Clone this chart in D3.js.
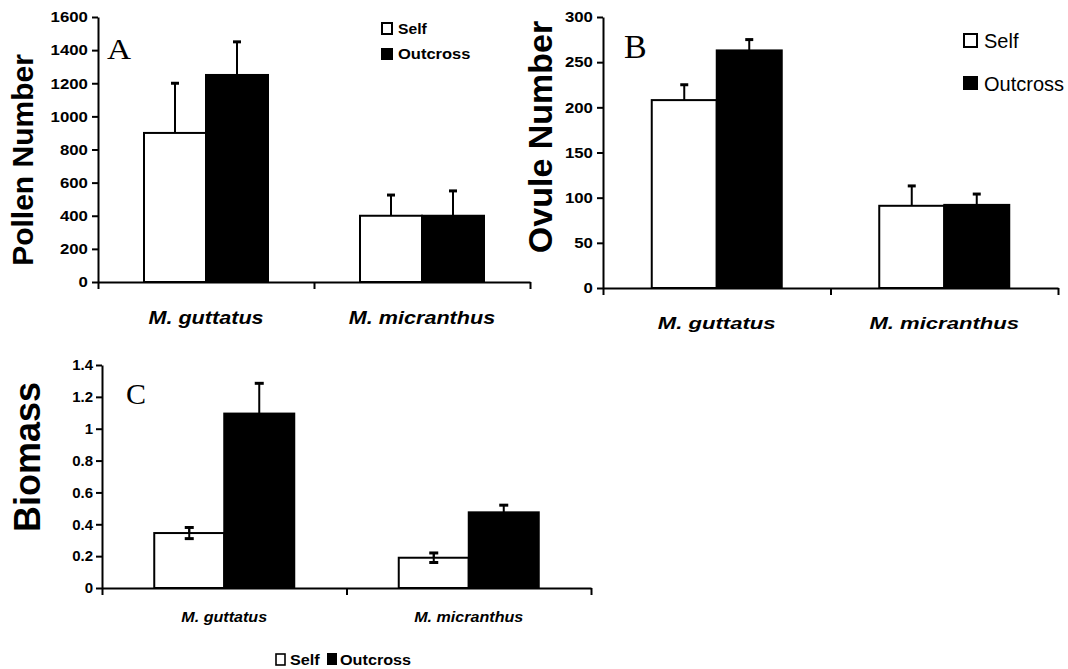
<!DOCTYPE html>
<html>
<head>
<meta charset="utf-8">
<script src="https://cdn.jsdelivr.net/npm/d3@7"></script>
<style>
  body { margin: 0; background: #fff; }
  svg { display: block; font-family: "Liberation Sans", Arial, sans-serif; }
  .serif { font-family: "Liberation Serif", "Times New Roman", serif; }
</style>
</head>
<body>
<svg id="chart" width="1068" height="669"></svg>
<script>
// categories and treatments
var species = ["M. guttatus", "M. micranthus"];
var treatments = ["Self", "Outcross"];

// A: pollen number (mean, SE)
var pollenSelf = [900, 400];
var pollenSelfErr = [300, 125];
var pollenOut = [1250, 400];
var pollenOutErr = [200, 150];
var pollenTicks = [0, 200, 400, 600, 800, 1000, 1200, 1400, 1600];

// B: ovule number
var ovuleSelf = [208, 91];
var ovuleSelfErr = [17, 22];
var ovuleOut = [263, 92];
var ovuleOutErr = [12, 12];
var ovuleTicks = [0, 50, 100, 150, 200, 250, 300];

// C: biomass
var biomassSelf = [0.345, 0.19];
var biomassSelfErr = [0.035, 0.03];
var biomassOut = [1.095, 0.475];
var biomassOutErr = [0.19, 0.045];
var biomassTicks = [0, 0.2, 0.4, 0.6, 0.8, 1, 1.2, 1.4];

var svg = d3.select("#chart");

// text helper, with a horizontal stretch like the original figure
function label(g, x, y, txt, size, sx, opts) {
    opts = opts || {};
    return g.append("text")
        .attr("transform", "translate(" + x + "," + y + ")" + (opts.rotate ? " rotate(" + opts.rotate + ")" : "") + " scale(" + sx + ",1)")
        .attr("text-anchor", opts.anchor || "start")
        .attr("font-size", size)
        .attr("font-weight", opts.weight || "bold")
        .attr("font-style", opts.italic ? "italic" : "normal")
        .attr("class", opts.cls || null)
        .text(txt);
}

function drawPanel(p) {
    var g = svg.append("g");

    var x = d3.scaleBand().domain(species).range([p.x0, p.x1]);
    var y = d3.scaleLinear().domain([0, p.max]).range([p.yZero, p.yTop]);
    var bw = x.bandwidth();
    var xSub = d3.scaleBand().domain(treatments).range([bw / 2 - p.barW, bw / 2 + p.barW]);

    var rows = species.map(function(s, i) {
        return [
            {sp: s, t: "Self", v: p.selfV[i], e: p.selfE[i]},
            {sp: s, t: "Outcross", v: p.outV[i], e: p.outE[i]}
        ];
    });
    var bars = d3.merge(rows);
    var cx = function(d) { return x(d.sp) + xSub(d.t) + xSub.bandwidth() / 2; };

    // error bars (drawn first, bars cover the lower half)
    var eb = g.selectAll(".err").data(bars).enter().append("g").attr("class", "err")
        .attr("stroke", "#000").attr("stroke-width", 2);
    eb.append("line")
        .attr("x1", cx).attr("x2", cx)
        .attr("y1", function(d) { return y(d.v); })
        .attr("y2", function(d) { return y(d.v + d.e); });
    eb.append("line")
        .attr("x1", function(d) { return cx(d) - p.capW / 2; })
        .attr("x2", function(d) { return cx(d) + p.capW / 2; })
        .attr("y1", function(d) { return y(d.v + d.e); })
        .attr("y2", function(d) { return y(d.v + d.e); })
        .attr("stroke-width", 3);

    g.selectAll(".bar").data(bars).enter().append("rect").attr("class", "bar")
        .attr("x", function(d) { return x(d.sp) + xSub(d.t); })
        .attr("width", xSub.bandwidth())
        .attr("y", function(d) { return y(d.v); })
        .attr("height", function(d) { return y(0) - y(d.v); })
        .attr("fill", function(d) { return d.t == "Self" ? "#fff" : "#000"; })
        .attr("stroke", "#000").attr("stroke-width", 2);

    // lower whisker of self bars in C sits on top of the white bar
    if (p.both) {
        var low = g.selectAll(".low").data(bars.filter(function(d) { return d.t == "Self"; })).enter().append("g")
            .attr("stroke", "#000").attr("stroke-width", 2);
        low.append("line")
            .attr("x1", cx).attr("x2", cx)
            .attr("y1", function(d) { return y(d.v - d.e); })
            .attr("y2", function(d) { return y(d.v + d.e); });
        low.append("line")
            .attr("x1", function(d) { return cx(d) - p.capW / 2; })
            .attr("x2", function(d) { return cx(d) + p.capW / 2; })
            .attr("y1", function(d) { return y(d.v - d.e); })
            .attr("y2", function(d) { return y(d.v - d.e); })
            .attr("stroke-width", 3);
    }

    // y axis
    var yAxis = g.append("g").attr("transform", "translate(" + p.x0 + ",0)")
        .call(d3.axisLeft(y).tickValues(p.ticks).tickSize(6).tickSizeOuter(0).tickPadding(3)
            .tickFormat(function(d) { return String(d); }));
    yAxis.select(".domain").attr("stroke-width", 2);
    yAxis.selectAll(".tick line").attr("stroke-width", 2);
    yAxis.selectAll(".tick text")
        .attr("font-size", p.tickFont).attr("font-weight", "bold").attr("fill", "#000")
        .attr("font-family", "Liberation Sans, Arial, sans-serif")
        .attr("transform", "scale(" + p.tickSx + ",1)");

    // x axis: line with ticks at the band edges
    var edge = d3.scaleLinear().domain([0, species.length]).range([p.x0, p.x1]);
    var xAxis = g.append("g").attr("transform", "translate(0," + p.yZero + ")")
        .call(d3.axisBottom(edge).tickValues([0, 1, 2]).tickSize(7).tickSizeOuter(0).tickFormat(""));
    xAxis.select(".domain").attr("stroke-width", 2);
    xAxis.selectAll(".tick line").attr("stroke-width", 2);

    species.forEach(function(s) {
        label(g, x(s) + bw / 2, p.xLabelY, s, p.xFont, p.xSx, {anchor: "middle", italic: true});
    });

    return g;
}

// Panel A
var gA = drawPanel({x0: 98, x1: 530, yTop: 17, yZero: 282, max: 1600, ticks: pollenTicks,
    barW: 62, capW: 8, both: false,
    selfV: pollenSelf, selfE: pollenSelfErr, outV: pollenOut, outE: pollenOutErr,
    tickFont: 15, tickSx: 1.12, xFont: 18, xSx: 1.2, xLabelY: 324});
label(gA, 33, 160, "Pollen Number", 30, 1, {anchor: "middle", rotate: -90});
label(gA, 107, 59, "A", 29, 1.15, {weight: "normal", cls: "serif"});
gA.append("rect").attr("x", 382).attr("y", 23).attr("width", 10).attr("height", 11)
    .attr("fill", "#fff").attr("stroke", "#000").attr("stroke-width", 2);
gA.append("rect").attr("x", 381).attr("y", 48).attr("width", 12).attr("height", 12).attr("fill", "#000");
label(gA, 398, 34, treatments[0], 14, 1.12);
label(gA, 398, 59, treatments[1], 14, 1.18);

// Panel B
var gB = drawPanel({x0: 603, x1: 1058, yTop: 17, yZero: 288, max: 300, ticks: ovuleTicks,
    barW: 65, capW: 8, both: false,
    selfV: ovuleSelf, selfE: ovuleSelfErr, outV: ovuleOut, outE: ovuleOutErr,
    tickFont: 15, tickSx: 1.12, xFont: 17, xSx: 1.3, xLabelY: 329});
label(gB, 552, 137, "Ovule Number", 34, 1, {anchor: "middle", rotate: -90});
label(gB, 624, 58, "B", 34, 1.0, {weight: "normal", cls: "serif"});
gB.append("rect").attr("x", 964).attr("y", 34).attr("width", 13).attr("height", 13)
    .attr("fill", "#fff").attr("stroke", "#000").attr("stroke-width", 2);
gB.append("rect").attr("x", 963).attr("y", 76).attr("width", 15).attr("height", 14).attr("fill", "#000");
label(gB, 984, 48, treatments[0], 20, 1, {weight: "normal"});
label(gB, 984, 91, treatments[1], 20, 1, {weight: "normal"});

// Panel C
var gC = drawPanel({x0: 102, x1: 591, yTop: 365, yZero: 588, max: 1.4, ticks: biomassTicks,
    barW: 70, capW: 9, both: true,
    selfV: biomassSelf, selfE: biomassSelfErr, outV: biomassOut, outE: biomassOutErr,
    tickFont: 15, tickSx: 1.0, xFont: 14, xSx: 1.15, xLabelY: 622});
label(gC, 40, 457, "Biomass", 36, 1, {anchor: "middle", rotate: -90});
label(gC, 126, 404, "C", 30, 1, {weight: "normal", cls: "serif"});
gC.append("rect").attr("x", 276).attr("y", 654).attr("width", 9).attr("height", 11)
    .attr("fill", "#fff").attr("stroke", "#000").attr("stroke-width", 1.6);
gC.append("rect").attr("x", 327).attr("y", 653).attr("width", 10).attr("height", 12).attr("fill", "#000");
label(gC, 290, 665, treatments[0], 15, 1.08);
label(gC, 340, 665, treatments[1], 15, 1.08);
</script>
</body>
</html>
